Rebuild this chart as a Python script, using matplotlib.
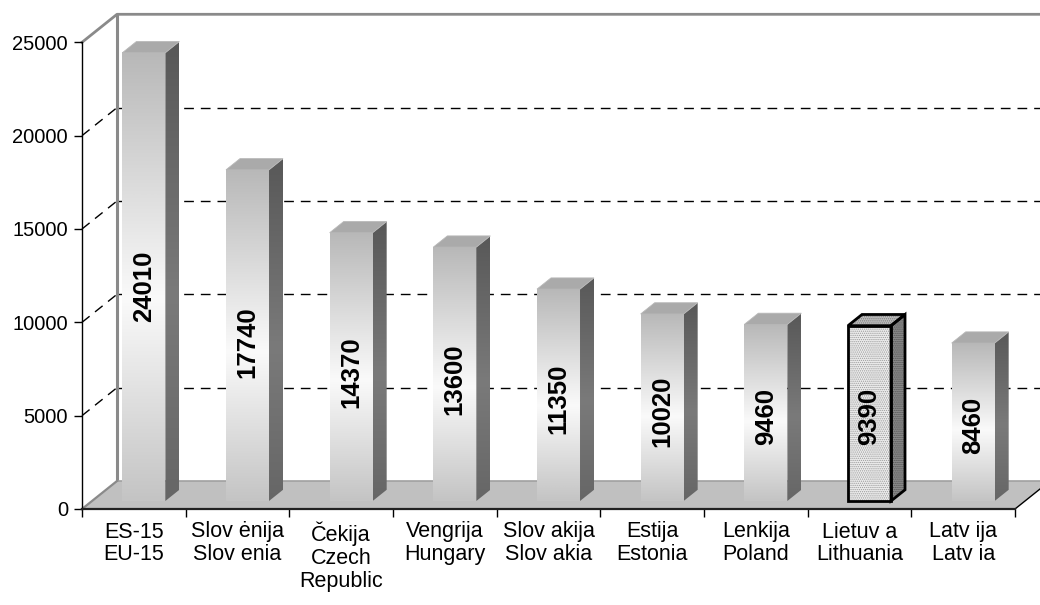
import numpy as np
import matplotlib
matplotlib.use("Agg")
import matplotlib.pyplot as plt
from matplotlib.patches import Polygon

# ---------------- data ----------------
categories = ["ES-15\nEU-15", "Slov ėnija\nSlov enia", "Čekija\nCzech\nRepublic",
              "Vengrija\nHungary", "Slov akija\nSlov akia", "Estija\nEstonia",
              "Lenkija\nPoland", "Lietuv a\nLithuania", "Latv ija\nLatv ia"]
values = [24010, 17740, 14370, 13600, 11350, 10020, 9460, 9390, 8460]
y_ticks = [0, 5000, 10000, 15000, 20000, 25000]
highlight_index = 7

plt.rcParams["font.family"] = ["Liberation Sans", "DejaVu Sans"]
plt.rcParams["hatch.linewidth"] = 0.6

# ---------------- layout (pixels) ----------------
W, H, DPI = 1040, 605, 100
fig = plt.figure(figsize=(W / DPI, H / DPI), dpi=DPI)
ax = fig.add_axes([0, 0, 1, 1])
ax.set_facecolor("white")

n = len(categories)
vmax = y_ticks[-1]
X0PX, XNPX = 82, 1015
Y0PX, YTPX = 509, 42.3
px_per_cat = (XNPX - X0PX) / n
px_per_val = (Y0PX - YTPX) / vmax
xlim = (-X0PX / px_per_cat, (W - X0PX) / px_per_cat)
ylim = (-(H - Y0PX) / px_per_val, Y0PX / px_per_val)

DX = 35 / px_per_cat      # full depth offset in category units
DY = 28 / px_per_val      # full depth offset in value units

# ---------------- walls and grid ----------------
for v in y_ticks[1:-1]:
    ax.plot([DX, n + DX], [v + DY, v + DY], color="black", lw=1.0,
            ls=(0, (7, 5)), zorder=1)
    ax.plot([0, DX], [v, v + DY], color="black", lw=1.0,
            ls=(0, (7, 5)), zorder=1)
ax.plot([DX, DX], [DY, vmax + DY], color="#8a8a8a", lw=2.2, zorder=1.5,
        solid_capstyle="butt")
ax.plot([0, DX, n + DX], [vmax, vmax + DY, vmax + DY], color="#8a8a8a",
        lw=2.0, zorder=1.5)

# floor
ax.add_patch(Polygon([(0, 0), (n, 0), (n + DX, DY), (DX, DY)], closed=True,
                     facecolor="#c0c0c0", edgecolor="none", zorder=2))
ax.plot([DX, n + DX], [DY, DY], color="#a0a0a0", lw=1.2, zorder=2.1)
ax.plot([0, DX], [0, DY], color="#8a8a8a", lw=1.6, zorder=2.1)
ax.plot([n, n + DX], [0, DY], color="black", lw=1.0, zorder=2.1)

# ---------------- bars ----------------
def vgrad(stops, npts=256):
    pos = np.array([s[0] for s in stops])
    cols = np.array([matplotlib.colors.to_rgb(s[1]) for s in stops])
    t = np.linspace(0, 1, npts)
    arr = np.stack([np.interp(t, pos, cols[:, k]) for k in range(3)], axis=-1)
    return arr[:, None, :]

front_grad = vgrad([(0, "#b8b8b8"), (0.55, "#fafafa"), (1.0, "#c4c4c4")])
side_grad = vgrad([(0, "#585858"), (0.55, "#7a7a7a"), (1.0, "#666666")])

bar_w = 43 / px_per_cat
d_front = 0.286
d_bar = 0.40
sx, sy = d_bar * DX, d_bar * DY

for i, v in enumerate(values):
    z = 3 + i * 0.1
    cx = i + 0.5 + d_front * DX
    x0, x1 = cx - bar_w / 2, cx + bar_w / 2
    yb = d_front * DY
    yt = yb + v
    front = [(x0, yb), (x1, yb), (x1, yt), (x0, yt)]
    side = [(x1, yb), (x1 + sx, yb + sy), (x1 + sx, yt + sy), (x1, yt)]
    top = [(x0, yt), (x1, yt), (x1 + sx, yt + sy), (x0 + sx, yt + sy)]
    if i == highlight_index:
        for poly, fc, hc in [(front, "#ececec", "#9a9a9a"),
                             (side, "#8a8a8a", "#505050"),
                             (top, "#bdbdbd", "#7a7a7a")]:
            ax.add_patch(Polygon(poly, closed=True, facecolor=fc, edgecolor=hc,
                                 hatch="........", lw=0, zorder=z))
            ax.add_patch(Polygon(poly, closed=True, fill=False,
                                 edgecolor="black", lw=2.0, zorder=z + 0.01,
                                 joinstyle="miter"))
    else:
        ax.imshow(front_grad, extent=[x0, x1, yb, yt], origin="upper",
                  aspect="auto", interpolation="bilinear", zorder=z)
        sp = Polygon(side, closed=True, facecolor="none", edgecolor="none")
        ax.add_patch(sp)
        im = ax.imshow(side_grad, extent=[x1, x1 + sx, yb, yt + sy],
                       origin="upper", aspect="auto", interpolation="bilinear",
                       zorder=z)
        im.set_clip_path(sp)
        ax.add_patch(Polygon(top, closed=True, facecolor="#aaaaaa",
                             edgecolor="#b8b8b8", lw=0.6, zorder=z))
    ax.text(cx, yb + v * 0.48, f"{v}", rotation=90, ha="center", va="center",
            fontsize=18.5, fontweight="bold", color="black", zorder=z + 0.05)

# ---------------- axes ----------------
ax.set_xlim(*xlim)
ax.set_ylim(*ylim)
ax.spines["top"].set_visible(False)
ax.spines["right"].set_visible(False)
ax.spines["left"].set_position(("data", 0))
ax.spines["left"].set_bounds(0, vmax)
ax.spines["left"].set_linewidth(1.0)
ax.spines["bottom"].set_position(("data", 0))
ax.spines["bottom"].set_bounds(0, n)
ax.spines["bottom"].set_linewidth(1.6)
ax.spines["bottom"].set_color("#222222")

ax.set_yticks(y_ticks)
ax.set_yticklabels([str(t) for t in y_ticks])
ax.set_xticks(np.arange(n + 1))
ax.set_xticklabels([])
ax.set_xticks(np.arange(n) + 0.5, minor=True)
ax.set_xticklabels(categories, minor=True, linespacing=1.12)
ax.tick_params(axis="x", which="major", direction="out", length=5.5, width=1)
ax.tick_params(axis="x", which="minor", length=0, pad=9, labelsize=15.5)
ax.tick_params(axis="y", which="major", direction="out", length=6, width=1,
               pad=4, labelsize=14.5)

fig.savefig("out.png", dpi=DPI)
